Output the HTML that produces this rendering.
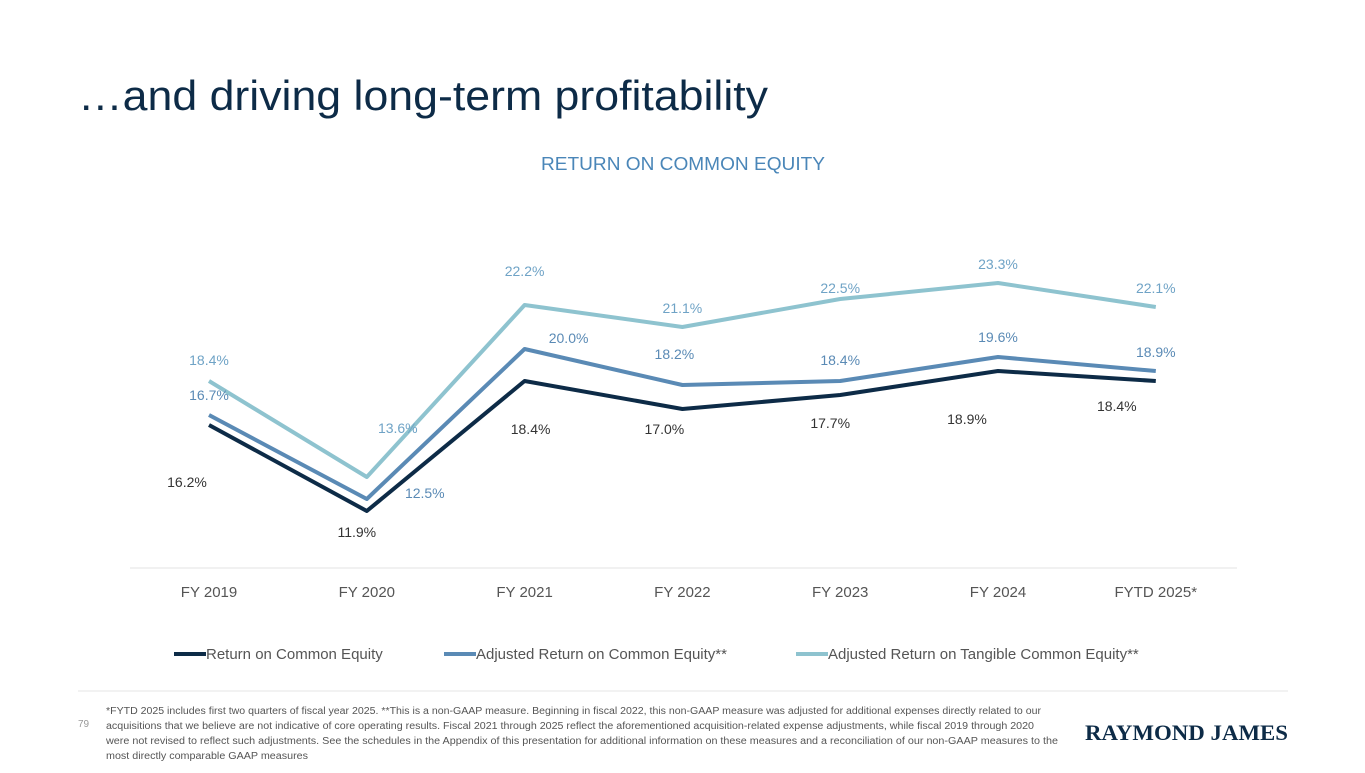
<!DOCTYPE html>
<html><head><meta charset="utf-8"><style>
body{margin:0;width:1365px;height:768px;background:#fff;overflow:hidden;font-family:"Liberation Sans",sans-serif}
</style></head><body>
<svg width="1365" height="768" xmlns="http://www.w3.org/2000/svg">
<text x="78" y="110" font-size="42" fill="#0d2b47" textLength="690" lengthAdjust="spacingAndGlyphs" font-family="Liberation Sans, sans-serif">…and driving long-term profitability</text>
<text x="541" y="170" textLength="284" lengthAdjust="spacingAndGlyphs" font-size="18" fill="#4a86b8">RETURN ON COMMON EQUITY</text>
<line x1="130" y1="568" x2="1237" y2="568" stroke="#e3e3e3" stroke-width="1"/>
<g id="plot"></g>
<g id="legend" font-size="15" fill="#555">
<line x1="174" y1="654" x2="206" y2="654" stroke="#0d2b47" stroke-width="4"/>
<text x="206" y="659">Return on Common Equity</text>
<line x1="444" y1="654" x2="476" y2="654" stroke="#5a8ab5" stroke-width="4"/>
<text x="476" y="659">Adjusted Return on Common Equity**</text>
<line x1="796" y1="654" x2="828" y2="654" stroke="#8ec3cf" stroke-width="4"/>
<text x="828" y="659">Adjusted Return on Tangible Common Equity**</text>
</g>
<line x1="78" y1="691" x2="1288" y2="691" stroke="#e6e6e6"/>
<text x="78" y="727" font-size="10" fill="#999">79</text>
<g font-size="10" fill="#555">
<text x="106" y="714" textLength="935" lengthAdjust="spacingAndGlyphs">*FYTD 2025 includes first two quarters of fiscal year 2025. **This is a non-GAAP measure. Beginning in fiscal 2022, this non-GAAP measure was adjusted for additional expenses directly related to our</text>
<text x="106" y="729" textLength="928" lengthAdjust="spacingAndGlyphs">acquisitions that we believe are not indicative of core operating results. Fiscal 2021 through 2025 reflect the aforementioned acquisition-related expense adjustments, while fiscal 2019 through 2020</text>
<text x="106" y="744" textLength="952" lengthAdjust="spacingAndGlyphs">were not revised to reflect such adjustments. See the schedules in the Appendix of this presentation for additional information on these measures and a reconciliation of our non-GAAP measures to the</text>
<text x="106" y="759" textLength="202" lengthAdjust="spacingAndGlyphs">most directly comparable GAAP measures</text>
</g>
<text x="1085" y="740" font-size="22" font-weight="bold" fill="#0d2b47" font-family="Liberation Serif, serif" textLength="203" lengthAdjust="spacingAndGlyphs">RAYMOND JAMES</text>
</svg>
<script>
const categories=["FY 2019","FY 2020","FY 2021","FY 2022","FY 2023","FY 2024","FYTD 2025*"];
const roe=[16.2,11.9,18.4,17.0,17.7,18.9,18.4];
const adjRoe=[16.7,12.5,20.0,18.2,18.4,19.6,18.9];
const adjRotce=[18.4,13.6,22.2,21.1,22.5,23.3,22.1];
const NS="http://www.w3.org/2000/svg";
const plot=document.getElementById('plot');
const xS=i=>209+i*157.8;
const yS=v=>749-20*v;
function mk(t,a){const e=document.createElementNS(NS,t);for(const k in a)e.setAttribute(k,a[k]);plot.appendChild(e);return e;}
categories.forEach((c,i)=>{const t=mk('text',{x:xS(i),y:597,'text-anchor':'middle','font-size':15,fill:'#555'});t.textContent=c;

});
function line(vals,col,name){const d=vals.map((v,i)=>(i?'L':'M')+xS(i)+' '+yS(v)).join(' ');
const p=mk('path',{d:d,fill:'none',stroke:col,'stroke-width':4,'stroke-linejoin':'round'});

}
line(adjRotce,'#8ec3cf','line-adjusted-rotce');
line(adjRoe,'#5a8ab5','line-adjusted-roe');
line(roe,'#0d2b47','line-roe');
function labels(vals,col,off,name){vals.forEach((v,i)=>{const o=off[i];const t=mk('text',{x:xS(i)+o[0],y:yS(v)+o[1],'text-anchor':'middle','font-size':14,fill:col});t.textContent=v.toFixed(1)+'%';

});}
labels(roe,'#333',[[-22,62],[-10,26],[6,53],[-18,25],[-10,33],[-31,53],[-39,30]],'roe-label');
labels(adjRoe,'#5a8ab5',[[0,-15],[58,-1],[44,-6],[-8,-26],[0,-16],[0,-15],[0,-14]],'adjusted-roe-label');
labels(adjRotce,'#6fa3c6',[[0,-16],[31,-44],[0,-29],[0,-14],[0,-6],[0,-14],[0,-14]],'adjusted-rotce-label');
</script>
</body></html>
